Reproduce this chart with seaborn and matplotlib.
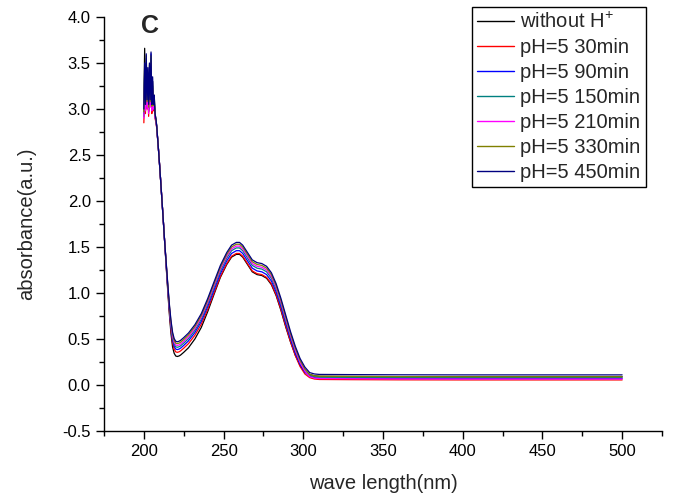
import numpy as np
import pandas as pd
import matplotlib
matplotlib.use("Agg")
import matplotlib.pyplot as plt
from matplotlib.lines import Line2D
from matplotlib.ticker import MultipleLocator
import seaborn as sns

# ---------------- data ----------------
wavelength = [200, 200.5, 201, 201.5, 202, 202.5, 203, 203.5, 204, 204.5, 205, 205.5,
              206, 206.5, 207, 207.5, 208,
              209, 210, 211, 212, 213, 214, 215, 216, 217, 218, 219, 220, 221, 222, 223,
              225, 228, 232, 236, 240, 244, 248, 252, 255, 258, 260, 262, 265, 268, 271,
              274, 277, 280, 283, 286, 289, 292, 295, 298, 301, 304, 307, 310, 330, 360,
              400, 450, 500]

series_names = ["without H$^{+}$", "pH=5 30min", "pH=5 90min", "pH=5 150min",
                "pH=5 210min", "pH=5 330min", "pH=5 450min"]

without_H = [3.05, 3.66, 2.98, 3.40, 3.05, 3.25, 2.97, 3.30, 3.10, 3.45, 3.00, 3.20, 3.05, 3.15, 2.95, 2.90, 2.82,
             2.60, 2.36, 2.10, 1.84, 1.57, 1.2865, 1.0175, 0.7685, 0.5595, 0.415, 0.345, 0.315, 0.31, 0.315, 0.325,
             0.355, 0.405, 0.50, 0.625, 0.795, 0.985, 1.17, 1.31, 1.39, 1.42, 1.42, 1.39, 1.31, 1.23, 1.20,
             1.19, 1.16, 1.09, 0.97, 0.81, 0.63, 0.467, 0.3235, 0.2125, 0.1415, 0.115, 0.10, 0.095, 0.093, 0.091,
             0.09, 0.09, 0.09]

ph5_30 = [2.85, 3.20, 2.95, 3.35, 3.00, 3.15, 2.92, 3.30, 3.05, 3.40, 2.95, 3.15, 2.98, 3.05, 2.90, 2.86, 2.80,
          2.60, 2.36, 2.10, 1.84, 1.57, 1.30, 1.04, 0.80, 0.60, 0.46, 0.39, 0.36, 0.355, 0.36, 0.37,
          0.40, 0.45, 0.54, 0.66, 0.82, 1.00, 1.18, 1.32, 1.40, 1.43, 1.43, 1.40, 1.32, 1.24, 1.21,
          1.20, 1.17, 1.10, 0.98, 0.82, 0.64, 0.47, 0.32, 0.20, 0.12, 0.08, 0.065, 0.06, 0.058, 0.056,
          0.055, 0.055, 0.055]

ph5_90 = [2.95, 3.40, 3.00, 3.55, 3.05, 3.35, 3.00, 3.45, 3.05, 3.60, 3.00, 3.30, 3.02, 3.10, 2.92, 2.88, 2.82,
          2.60, 2.36, 2.10, 1.84, 1.57, 1.309, 1.055, 0.821, 0.627, 0.49, 0.42, 0.39, 0.385, 0.39, 0.40,
          0.43, 0.48, 0.57, 0.69, 0.85, 1.03, 1.21, 1.35, 1.43, 1.46, 1.46, 1.43, 1.35, 1.27, 1.24,
          1.23, 1.20, 1.13, 1.01, 0.85, 0.67, 0.498, 0.346, 0.2225, 0.1395, 0.095, 0.08, 0.075, 0.073, 0.071,
          0.07, 0.07, 0.07]

ph5_150 = [2.92, 3.35, 3.02, 3.50, 3.02, 3.30, 2.98, 3.40, 3.08, 3.55, 3.02, 3.25, 3.00, 3.08, 2.93, 2.87, 2.81,
           2.60, 2.36, 2.10, 1.84, 1.57, 1.317, 1.068, 0.839, 0.65, 0.515, 0.445, 0.415, 0.41, 0.415, 0.425,
           0.455, 0.505, 0.595, 0.715, 0.878, 1.06, 1.24, 1.38, 1.46, 1.49, 1.49, 1.46, 1.38, 1.30, 1.27,
           1.26, 1.23, 1.16, 1.04, 0.88, 0.70, 0.525, 0.37, 0.2425, 0.1555, 0.105, 0.09, 0.085, 0.083, 0.081,
           0.08, 0.08, 0.08]

ph5_210 = [2.90, 3.30, 2.98, 3.45, 3.00, 3.28, 2.95, 3.38, 3.02, 3.50, 2.98, 3.22, 3.00, 3.05, 2.91, 2.87, 2.81,
           2.60, 2.36, 2.10, 1.84, 1.57, 1.323, 1.078, 0.853, 0.668, 0.535, 0.465, 0.435, 0.43, 0.435, 0.445,
           0.475, 0.525, 0.615, 0.735, 0.898, 1.08, 1.26, 1.40, 1.48, 1.51, 1.51, 1.48, 1.40, 1.32, 1.29,
           1.28, 1.25, 1.18, 1.06, 0.90, 0.72, 0.5395, 0.379, 0.245, 0.151, 0.09, 0.075, 0.07, 0.068, 0.066,
           0.065, 0.065, 0.065]

ph5_330 = [2.97, 3.45, 3.05, 3.58, 3.08, 3.40, 3.02, 3.48, 3.08, 3.58, 3.03, 3.30, 3.04, 3.12, 2.94, 2.89, 2.82,
           2.60, 2.36, 2.10, 1.84, 1.57, 1.3285, 1.0875, 0.8665, 0.6855, 0.555, 0.485, 0.455, 0.45, 0.455, 0.465,
           0.495, 0.545, 0.635, 0.755, 0.9175, 1.10, 1.28, 1.42, 1.50, 1.53, 1.53, 1.50, 1.42, 1.34, 1.31,
           1.30, 1.27, 1.20, 1.08, 0.92, 0.74, 0.56, 0.4005, 0.2675, 0.1745, 0.115, 0.10, 0.095, 0.093, 0.091,
           0.09, 0.09, 0.09]

ph5_450 = [3.00, 3.50, 3.05, 3.60, 3.10, 3.45, 3.05, 3.50, 3.10, 3.62, 3.05, 3.35, 3.05, 3.15, 2.95, 2.90, 2.83,
           2.60, 2.36, 2.10, 1.84, 1.57, 1.3345, 1.0975, 0.8805, 0.7035, 0.575, 0.505, 0.475, 0.47, 0.475, 0.485,
           0.515, 0.565, 0.655, 0.775, 0.9375, 1.12, 1.30, 1.44, 1.52, 1.55, 1.55, 1.52, 1.44, 1.36, 1.33,
           1.32, 1.29, 1.22, 1.10, 0.94, 0.76, 0.58, 0.4205, 0.2875, 0.1945, 0.135, 0.12, 0.115, 0.113, 0.111,
           0.11, 0.11, 0.11]

series_values = [without_H, ph5_30, ph5_90, ph5_150, ph5_210, ph5_330, ph5_450]
colors = ["#000000", "#ff0000", "#0000ff", "#008080", "#ff00ff", "#808000", "#000080"]

x_ticks = [200, 250, 300, 350, 400, 450, 500]
y_ticks = [-0.5, 0.0, 0.5, 1.0, 1.5, 2.0, 2.5, 3.0, 3.5, 4.0]

# ---------------- build table ----------------
frames = []
for name, vals in zip(series_names, series_values):
    frames.append(pd.DataFrame({"wavelength": wavelength, "absorbance": vals, "sample": name}))
df = pd.concat(frames, ignore_index=True)

sns.set_style("ticks")
plt.rcParams["font.family"] = ["Liberation Sans", "DejaVu Sans"]
plt.rcParams["mathtext.fontset"] = "custom"
plt.rcParams["mathtext.rm"] = "Liberation Sans"
plt.rcParams["mathtext.it"] = "Liberation Sans:italic"

W, H = 673, 497
fig = plt.figure(figsize=(W / 100, H / 100), dpi=100)
ax = fig.add_axes([104 / W, (H - 431) / H, (662 - 104) / W, (431 - 17) / H])

palette = dict(zip(series_names, colors))
sns.lineplot(data=df, x="wavelength", y="absorbance", hue="sample", palette=palette,
             hue_order=series_names, sort=False, estimator=None, linewidth=0.9,
             legend=False, ax=ax)

ax.set_xlim(175, 525)
ax.set_ylim(-0.5, 4.0)
ax.set_xticks(x_ticks)
ax.set_yticks(y_ticks)
ax.set_yticklabels([f"{v:.1f}" for v in y_ticks])
ax.xaxis.set_minor_locator(MultipleLocator(25))
ax.yaxis.set_minor_locator(MultipleLocator(0.25))
ax.tick_params(axis="both", which="major", direction="out", length=6, width=1.0,
               labelsize=12, color="black", labelcolor="black")
ax.tick_params(axis="both", which="minor", direction="out", length=3.5, width=1.0, color="black")
for side in ["top", "right"]:
    ax.spines[side].set_visible(False)
for side in ["left", "bottom"]:
    ax.spines[side].set_color("black")
    ax.spines[side].set_linewidth(1.0)

ax.set_xlabel("wave length(nm)", fontsize=14.5, labelpad=11)
ax.set_ylabel("absorbance(a.u.)", fontsize=14.5, labelpad=19)

ax.text(204, 3.9, "C", fontsize=18, fontweight="bold", ha="center", va="center")

handles = [Line2D([0], [0], color=c, lw=1.0) for c in colors]
leg = fig.legend(handles, series_names, loc="upper left", bbox_to_anchor=(472 / W, 1 - 7 / H),
                 bbox_transform=fig.transFigure, frameon=True, fancybox=False, shadow=False,
                 fontsize=14.5, handlelength=1.85, handletextpad=0.3, labelspacing=0.3,
                 borderpad=0.25, borderaxespad=0)
leg.get_frame().set_edgecolor("black")
leg.get_frame().set_linewidth(1.0)
leg.get_frame().set_alpha(1)

fig.savefig("out.png", dpi=100)
